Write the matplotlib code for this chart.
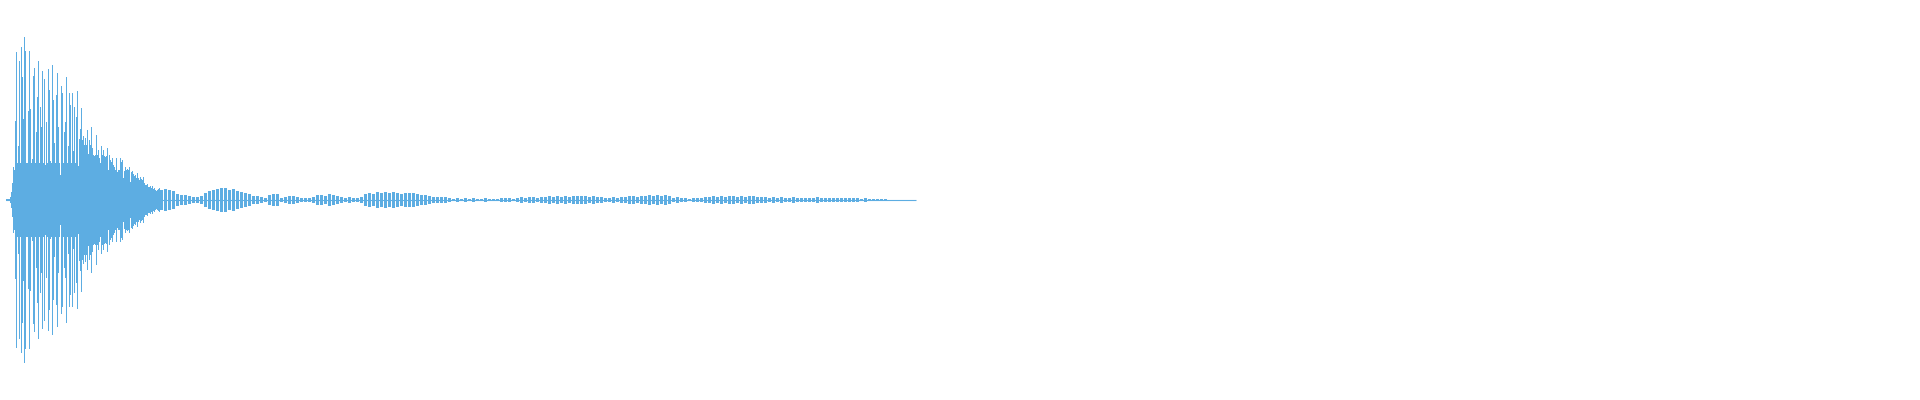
import numpy as np
import matplotlib
matplotlib.use("Agg")
import matplotlib.pyplot as plt

# waveform peak amplitude (pixels of half-height), one value per column, columns 0..159
head_amp = [
    0, 0, 0, 0, 0, 0, 1, 1, 1, 1,
    3, 8, 17, 33, 30, 79, 148, 37, 54, 139,
    37, 153, 123, 81, 163, 149, 37, 37, 89, 149,
    91, 37, 41, 124, 132, 37, 68, 103, 139, 37,
    93, 73, 129, 37, 121, 35, 78, 37, 131, 110,
    39, 37, 135, 100, 57, 37, 105, 127, 73, 37,
    25, 114, 107, 37, 68, 78, 123, 37, 54, 107,
    95, 37, 107, 49, 93, 37, 83, 109, 34, 61,
    71, 92, 60, 64, 55, 62, 55, 70, 46, 60,
    55, 73, 52, 45, 44, 45, 65, 45, 50, 42,
    37, 54, 45, 50, 44, 43, 44, 52, 30, 45,
    40, 38, 42, 35, 33, 30, 42, 28, 30, 30,
    42, 38, 40, 22, 29, 33, 30, 31, 30, 33,
    18, 28, 29, 26, 24, 25, 22, 27, 22, 20,
    23, 21, 20, 23, 17, 15, 15, 16, 13, 13,
    14, 12, 14, 11, 12, 10, 9, 10, 11, 12,
]

# tail amplitude, one value per 4 columns, starting at column 160
tail_start = 160
tail_step = 4
tail_amp = [
    10, 11, 10, 9, 6, 5, 5, 4, 3, 3, 4, 7, 9, 10, 11, 12, 12, 10, 11, 9,
    8, 7, 6, 4, 4, 3, 2, 5, 6, 6, 2, 3, 4, 4, 3, 2, 2, 2, 3, 5,
    5, 4, 6, 5, 4, 3, 2, 3, 2, 2, 3, 6, 7, 6, 8, 7, 8, 7, 8, 7,
    6, 7,
    7, 7, 6, 5, 5, 4, 3, 3, 3, 3, 2, 1, 2, 1, 2, 1, 2, 1, 1, 2,
    1, 1, 1, 2, 2, 2, 1, 2, 3, 2, 3, 3, 2, 3, 3, 4, 3, 4, 3, 4,
    3, 4, 4,
    4, 4, 3, 4, 3, 3, 2, 2, 3, 2, 3, 3, 4, 4, 3, 4, 4, 5, 4, 5,
    4, 5, 4, 2, 3, 2, 2, 1, 2, 2, 2, 3, 3, 4, 3, 4, 3, 4, 4, 3,
    4, 3, 4,
    4, 3, 3, 3, 2, 3, 2, 3, 2, 2, 3, 2, 2, 2, 2, 2, 3, 2, 2, 2,
    2, 2, 2, 2, 2, 2, 2, 1, 2, 1, 1, 1, 1, 1, 0.5, 0.5, 0.5, 0.5,
    0.5, 0.5, 0.5,
]

color = "#5dade2"

fig = plt.figure(figsize=(19.2, 4), dpi=100)
ax = fig.add_axes([0, 0, 1, 1])

head = np.array(head_amp, dtype=float)
hx = np.arange(len(head))
ax.bar(hx, 2 * head, bottom=-head, width=1.0, align="edge",
       color=color, linewidth=0, antialiased=False)

tail = np.array(tail_amp, dtype=float)
tx = tail_start + tail_step * np.arange(len(tail))
ax.bar(tx, 2 * tail, bottom=-tail, width=tail_step - 1, align="edge",
       color=color, linewidth=0, antialiased=False)

# thin centre line
ax.hlines(0, 6, tx[-1] + tail_step, color=color, linewidth=0.8)

ax.set_xlim(0, 1920)
ax.set_ylim(-200, 200)
ax.axis("off")

fig.savefig("out.png", dpi=100, facecolor="white")
